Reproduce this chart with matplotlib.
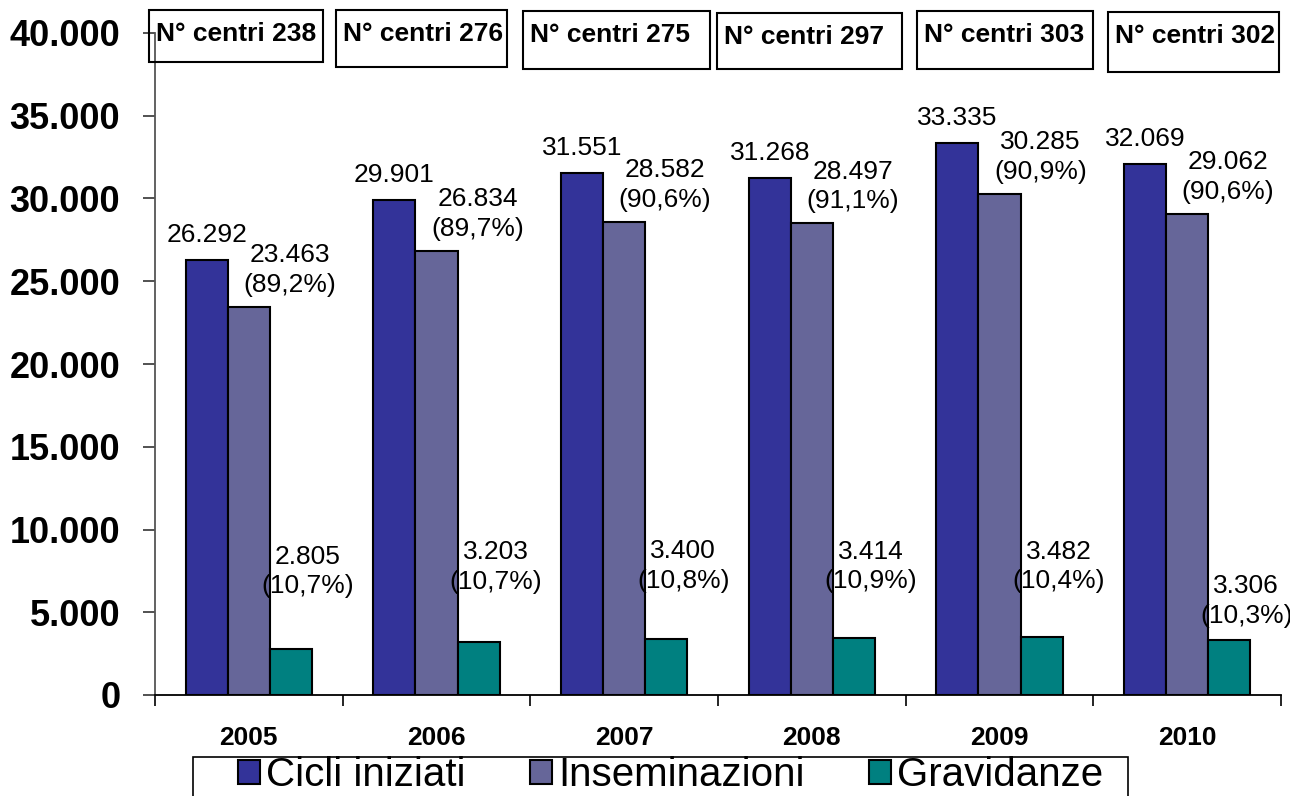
import matplotlib
matplotlib.use("Agg")
import matplotlib.pyplot as plt
from matplotlib.patches import Rectangle, Patch
import numpy as np

plt.rcParams['font.family'] = ['Liberation Sans', 'DejaVu Sans']

# Dati
anni = ["2005", "2006", "2007", "2008", "2009", "2010"]
centri = [238, 276, 275, 297, 303, 302]
cicli = [26292, 29901, 31551, 31268, 33335, 32069]
inseminazioni = [23463, 26834, 28582, 28497, 30285, 29062]
gravidanze = [2805, 3203, 3400, 3414, 3482, 3306]
perc_ins = ["89,2", "89,7", "90,6", "91,1", "90,9", "90,6"]
perc_grav = ["10,7", "10,7", "10,8", "10,9", "10,4", "10,3"]

# Colori
c_cicli = "#333399"
c_ins = "#666699"
c_grav = "#008080"

def fmt(v):
    return f"{v:,}".replace(",", ".")

W, H = 1290, 796
fig = plt.figure(figsize=(W/100, H/100), dpi=100)
ax = fig.add_axes([155/W, 1-695/H, (1281-155)/W, (695-33)/H])

x = np.arange(len(anni))
bw = 0.224
ax.bar(x - bw, cicli, bw, color=c_cicli, edgecolor="black", lw=1.5, label="Cicli iniziati")
ax.bar(x, inseminazioni, bw, color=c_ins, edgecolor="black", lw=1.5, label="Inseminazioni")
ax.bar(x + bw, gravidanze, bw, color=c_grav, edgecolor="black", lw=1.5, label="Gravidanze")

ax.set_xlim(-0.5, len(anni) - 0.5)
ax.set_ylim(0, 40000)

# etichette valori
lab_fs = 19
dy_grav = [77, 75, 73, 72, 71, 39]
for i in range(len(anni)):
    ax.annotate(fmt(cicli[i]), (x[i] - bw, cicli[i]), xytext=(0, 25),
                textcoords="offset pixels", ha="center", va="center", fontsize=lab_fs)
    ax.annotate(fmt(inseminazioni[i]) + "\n(" + perc_ins[i] + "%)", (x[i], inseminazioni[i]),
                xytext=(41, 37), textcoords="offset pixels", ha="center", va="center",
                fontsize=lab_fs, linespacing=1.3)
    ax.annotate(fmt(gravidanze[i]) + "\n(" + perc_grav[i] + "%)", (x[i] + bw, gravidanze[i]),
                xytext=(17, dy_grav[i]), textcoords="offset pixels", ha="center", va="center",
                fontsize=lab_fs, linespacing=1.3)

# assi
ax.spines["top"].set_visible(False)
ax.spines["right"].set_visible(False)
ax.spines["left"].set_color("#555555")
ax.spines["left"].set_linewidth(1.3)
ax.spines["bottom"].set_linewidth(1.3)
yt = np.arange(0, 40001, 5000)
ax.set_yticks(yt)
ax.set_yticklabels([fmt(v) for v in yt], fontsize=26, fontweight="bold")
ax.tick_params(axis="y", length=9, width=1.2, pad=16, color="#333333")
ax.set_xticks(np.arange(-0.5, len(anni), 1.0))
ax.set_xticklabels([])
ax.tick_params(axis="x", which="major", length=8, width=1.2, direction="out")
ax.set_xticks(x, minor=True)
ax.set_xticklabels(anni, minor=True, fontsize=19, fontweight="bold")
ax.tick_params(axis="x", which="minor", length=0, pad=22)

# riquadri n. centri
box_left = [149, 336, 523, 717, 917, 1108]
box_right = [323, 507, 710, 902, 1093, 1279]
box_top = [10, 10, 11, 13, 11, 12]
box_bot = [62, 67, 69, 69, 69, 72]
for i in range(len(anni)):
    fig.add_artist(Rectangle((box_left[i]/W, 1-box_bot[i]/H),
                             (box_right[i]-box_left[i])/W, (box_bot[i]-box_top[i])/H,
                             transform=fig.transFigure, fill=False, lw=1.5, ec="black"))
    fig.text((box_left[i]+7)/W, 1-(box_top[i]+24)/H, "N° centri " + str(centri[i]),
             fontsize=19, fontweight="bold", ha="left", va="center")

# legenda (cornice disegnata a parte, tagliata dal bordo)
fig.add_artist(Rectangle((193/W, -0.02), (1128-193)/W, 0.02 + (796-757)/H,
                         transform=fig.transFigure, fill=False, lw=1.2, ec="black"))
handles = [Patch(facecolor=c, edgecolor="black", lw=1.5) for c in (c_cicli, c_ins, c_grav)]
leg = fig.legend(handles, ["Cicli iniziati", "Inseminazioni", "Gravidanze"],
                 loc="upper left", bbox_to_anchor=(238/W, 1-756/H),
                 ncol=3, fontsize=29, frameon=False, borderpad=0,
                 handlelength=0.55, handleheight=0.55, handletextpad=0.15,
                 columnspacing=1.6, borderaxespad=0)

fig.savefig("out.png", dpi=100)
